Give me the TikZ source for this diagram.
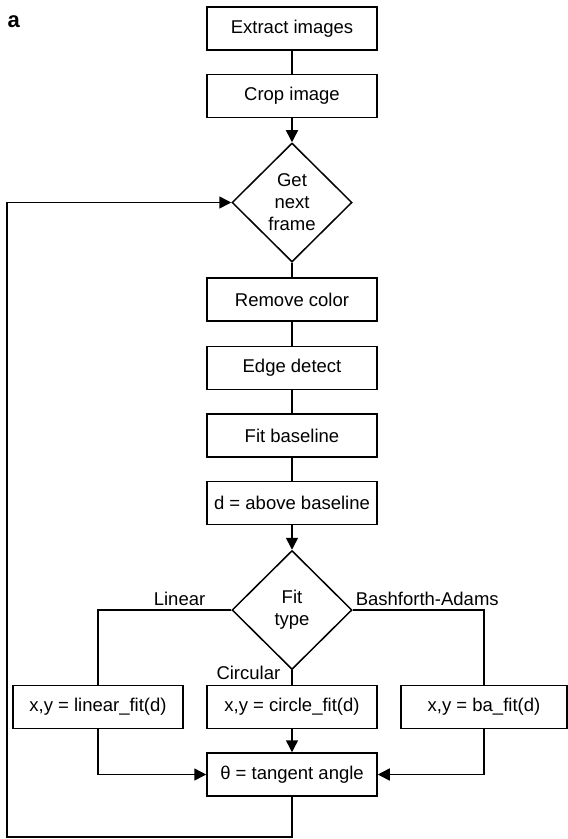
\documentclass[tikz,border=0pt]{standalone}
\usepackage{fontspec}
\setmainfont{Liberation Sans}
\usetikzlibrary{shapes.geometric,arrows.meta}

\tikzset{every picture/.style={line width=1.5pt}}
\tikzset{
  procbox/.style={draw, rectangle, minimum width=170pt, minimum height=43pt, inner sep=1pt, font=\fontsize{18.5}{22}\selectfont},
  decide/.style={draw, diamond, aspect=1, minimum width=120pt, minimum height=119pt, inner sep=0pt, align=center, font=\fontsize{18.5}{22}\selectfont},
  brlabel/.style={inner sep=0pt, font=\fontsize{18.5}{22}\selectfont},
  flow/.style={-{Triangle[length=12pt,width=12pt]}}
}

\begin{document}
\begin{tikzpicture}[x=1pt,y=1pt,yscale=-1,xscale=1]
\useasboundingbox (0,0) rectangle (568,839);

% Panel letter
\node [anchor=base west, inner sep=0pt, font=\fontsize{22}{26}\selectfont\bfseries] (panel) at (7,27) {a};

% Boxes of the main column
\node [procbox] (extract) at (292,28.5) {Extract images};
\node [procbox] (crop) at (292,96) {Crop image};
\node [decide] (frame) at (292,202.5) {Get\\next\\frame};
\node [procbox] (remove) at (292,299.5) {Remove color};
\node [procbox] (edge) at (292,368) {Edge detect};
\node [procbox] (baseline) at (292,435.5) {Fit baseline};
\node [procbox] (above) at (292,503) {d = above baseline};
\node [decide] (fittype) at (292,610) {Fit\\type};

% Fit boxes
\node [procbox] (linfit) at (98,707) {x,y = linear\_fit(d)};
\node [procbox] (circfit) at (292,707) {x,y = circle\_fit(d)};
\node [procbox, minimum width=166pt] (bafit) at (484,707) {x,y = ba\_fit(d)};
\node [procbox] (tangent) at (292,774.5) {θ = tangent angle};

% Branch labels
\node [brlabel, anchor=base east] (linlbl) at (206,605) {Linear};
\node [brlabel, anchor=base west] (balbl) at (355,605) {Bashforth-Adams};
\node [brlabel, anchor=base east] (circlbl) at (281,679) {Circular};

%Straight Lines
\draw (extract) -- (crop);
\draw [flow] (crop) -- (frame);
\draw (frame) -- (remove);
\draw (remove) -- (edge);
\draw (edge) -- (baseline);
\draw (baseline) -- (above);
\draw [flow] (above) -- (fittype);

%Branches
\draw (fittype.west) -| (linfit.north);
\draw (fittype.south) -- (circfit.north);
\draw (fittype.east) -| (bafit.north);

\draw [flow] (linfit.south) |- (tangent.west);
\draw [flow] (circfit.south) -- (tangent.north);
\draw [flow] (bafit.south) |- (tangent.east);

%Loop back
\coordinate (loopcorner) at (7,837);
\draw [flow] (tangent.south) |- (loopcorner) |- (frame.west);

\end{tikzpicture}
\end{document}
